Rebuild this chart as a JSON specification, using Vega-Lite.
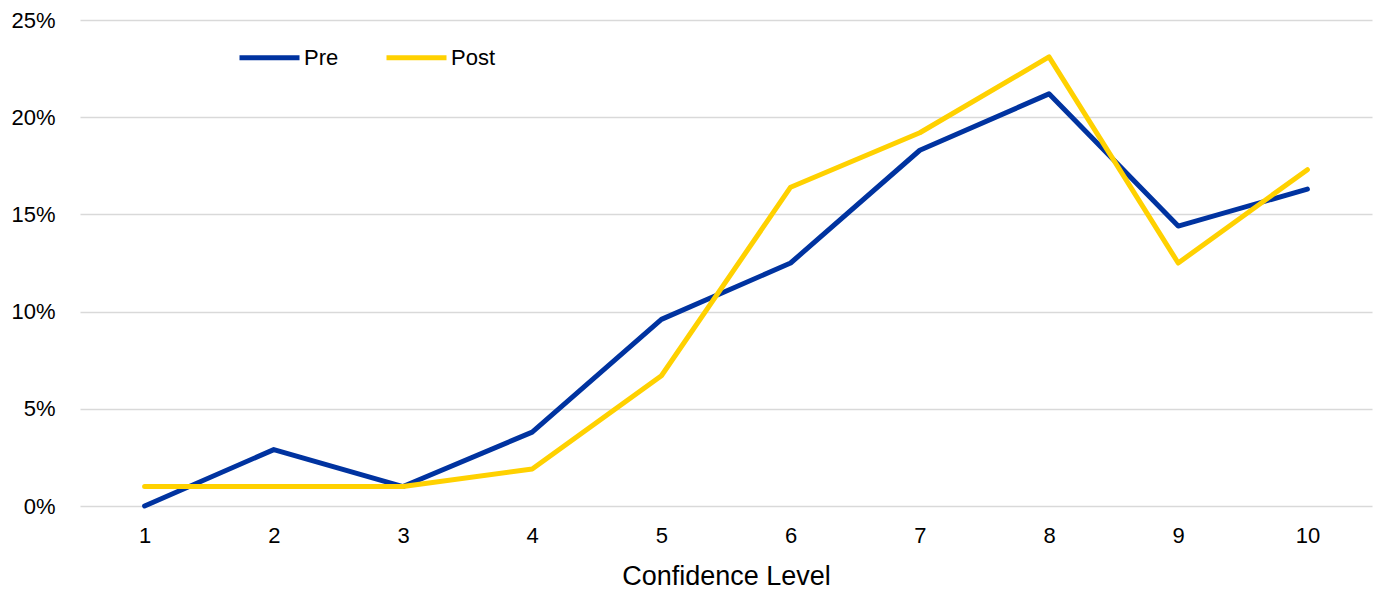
{
  "$schema": "https://vega.github.io/schema/vega-lite/v6.json",
  "autosize": "none",
  "width": 1292,
  "height": 486,
  "padding": {"left": 80, "top": 20, "right": 2, "bottom": 84},
  "background": "white",
  "config": {
    "font": "Liberation Sans",
    "view": {"stroke": null}
  },
  "data": {
    "values": [
      {"level": 1, "group": "Pre", "pct": 0.0},
      {"level": 2, "group": "Pre", "pct": 2.9},
      {"level": 3, "group": "Pre", "pct": 1.0},
      {"level": 4, "group": "Pre", "pct": 3.8},
      {"level": 5, "group": "Pre", "pct": 9.6},
      {"level": 6, "group": "Pre", "pct": 12.5},
      {"level": 7, "group": "Pre", "pct": 18.3},
      {"level": 8, "group": "Pre", "pct": 21.2},
      {"level": 9, "group": "Pre", "pct": 14.4},
      {"level": 10, "group": "Pre", "pct": 16.3},
      {"level": 1, "group": "Post", "pct": 1.0},
      {"level": 2, "group": "Post", "pct": 1.0},
      {"level": 3, "group": "Post", "pct": 1.0},
      {"level": 4, "group": "Post", "pct": 1.9},
      {"level": 5, "group": "Post", "pct": 6.7},
      {"level": 6, "group": "Post", "pct": 16.4},
      {"level": 7, "group": "Post", "pct": 19.2},
      {"level": 8, "group": "Post", "pct": 23.1},
      {"level": 9, "group": "Post", "pct": 12.5},
      {"level": 10, "group": "Post", "pct": 17.3}
    ]
  },
  "mark": {"type": "line", "strokeWidth": 5, "strokeCap": "round", "strokeJoin": "round"},
  "encoding": {
    "x": {
      "field": "level",
      "type": "ordinal",
      "scale": {"type": "point", "padding": 0.5},
      "axis": {
        "title": "Confidence Level",
        "titleFontSize": 27,
        "titleFontWeight": "normal",
        "titleColor": "black",
        "titlePadding": 17,
        "labelAngle": 0,
        "labelFontSize": 22,
        "labelColor": "black",
        "labelPadding": 19,
        "ticks": false,
        "domain": false,
        "grid": false
      }
    },
    "y": {
      "field": "pct",
      "type": "quantitative",
      "scale": {"domain": [0, 25], "nice": false},
      "axis": {
        "title": null,
        "values": [0, 5, 10, 15, 20, 25],
        "labelExpr": "datum.value + '%'",
        "labelFontSize": 22,
        "labelColor": "black",
        "labelPadding": 25,
        "ticks": false,
        "domain": false,
        "grid": true,
        "gridColor": "#d9d9d9",
        "gridWidth": 1.5
      }
    },
    "color": {
      "field": "group",
      "type": "nominal",
      "scale": {"domain": ["Pre", "Post"], "range": ["#0033A0", "#FFD100"]},
      "legend": {
        "title": null,
        "orient": "none",
        "direction": "horizontal",
        "legendX": 157,
        "legendY": 5,
        "symbolType": "stroke",
        "symbolSize": 3600,
        "symbolStrokeWidth": 5,
        "labelFontSize": 22,
        "labelColor": "black",
        "labelOffset": 2,
        "columnPadding": 37
      }
    }
  }
}
